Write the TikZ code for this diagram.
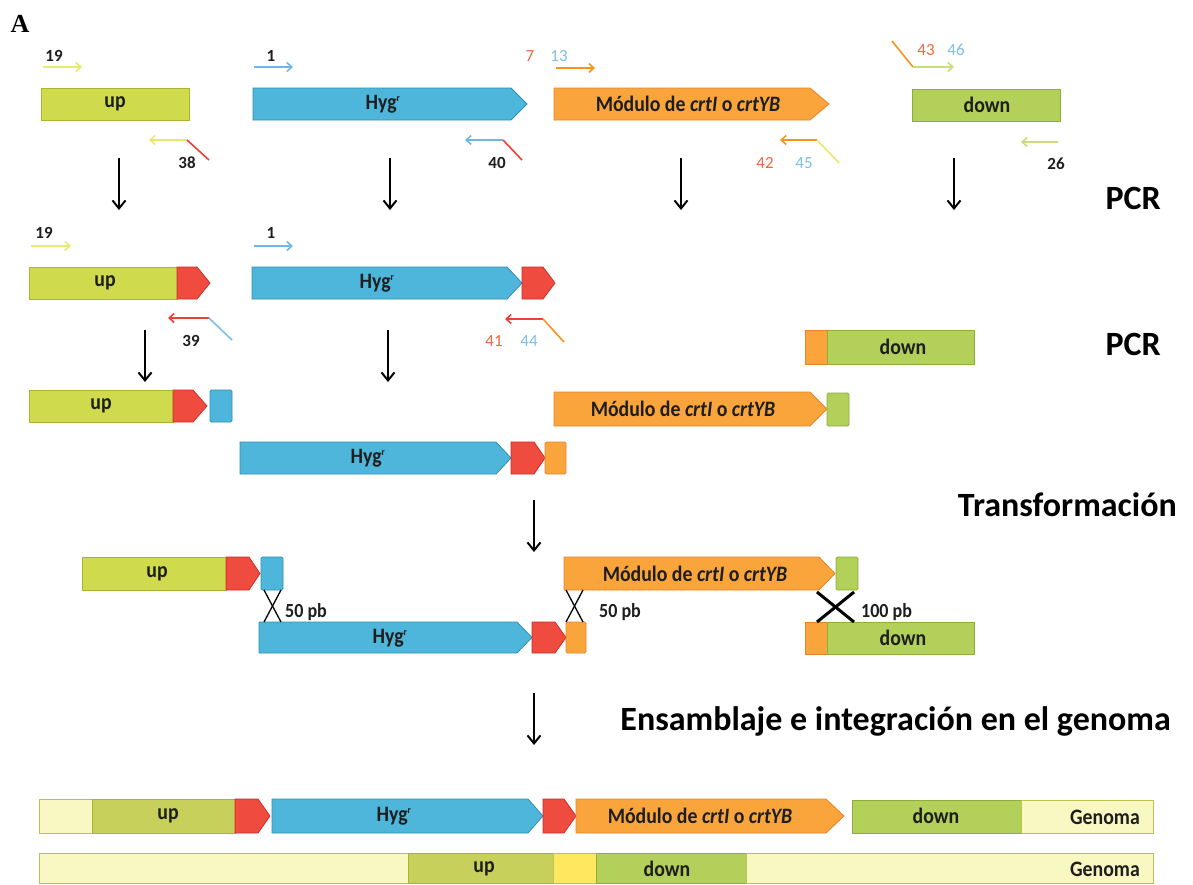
\documentclass[tikz,border=0pt]{standalone}
\usepackage{fontspec}
\setmainfont{Carlito}
\newfontfamily\cond[FakeStretch=0.9]{Carlito}
\newfontfamily\serifA{Liberation Serif}
\usetikzlibrary{arrows.meta}
\definecolor{upfill}{HTML}{CFDA4C}
\definecolor{upline}{HTML}{A9B52F}
\definecolor{upfillB}{HTML}{C6D05A}
\definecolor{downfill}{HTML}{B2D05A}
\definecolor{downline}{HTML}{8DAE3C}
\definecolor{hygfill}{HTML}{4DB6DA}
\definecolor{hygline}{HTML}{2F8FB3}
\definecolor{modfill}{HTML}{F9A53B}
\definecolor{modline}{HTML}{E8832A}
\definecolor{redfill}{HTML}{EF4B3F}
\definecolor{redline}{HTML}{C7302A}
\definecolor{palefill}{HTML}{FAF8C2}
\definecolor{paleline}{HTML}{BCC24E}
\definecolor{yelfill}{HTML}{FDE860}
\definecolor{txt}{HTML}{1E1E1E}
\definecolor{numorange}{HTML}{F2683C}
\definecolor{numblue}{HTML}{7DBFE8}
\definecolor{pyellow}{HTML}{E6EA6E}
\definecolor{pgreen}{HTML}{C6DE7A}
\definecolor{pblue}{HTML}{6FB8E6}
\definecolor{porange}{HTML}{F7941D}
\definecolor{pred}{HTML}{EE4038}
\newcommand\pent[6]{\draw[#1] (#2,#5) -- (#3,#5) -- (#4,{(#5+#6)/2}) -- (#3,#6) -- (#2,#6) -- cycle;}
\tikzset{
  upbox/.style={fill=upfill,draw=upline,line width=0.8pt},
  upboxB/.style={fill=upfillB,draw=upline,line width=0.8pt},
  downbox/.style={fill=downfill,draw=downline,line width=0.8pt},
  hygbox/.style={fill=hygfill,draw=hygline,line width=0.8pt},
  modbox/.style={fill=modfill,draw=modline,line width=0.8pt},
  redbox/.style={fill=redfill,draw=redline,line width=0.8pt},
  palebox/.style={fill=palefill,draw=paleline,line width=0.8pt},
  yelbox/.style={fill=yelfill,draw=paleline,line width=0.8pt},
  lbl/.style={text=txt,font=\cond\fontsize{22}{23}\selectfont\bfseries,inner sep=0pt},
  num/.style={font=\fontsize{17}{18}\selectfont,inner sep=0pt},
  bnum/.style={text=txt,font=\fontsize{17}{18}\selectfont\bfseries,inner sep=0pt},
  pbl/.style={text=txt,font=\cond\fontsize{20}{21}\selectfont\bfseries,inner sep=0pt},
  big/.style={text=black,font=\fontsize{34}{36}\selectfont\bfseries,inner sep=0pt},
  prim/.style={line width=1.6pt,-{Straight Barb[length=5pt,width=9pt]}},
  tail/.style={line width=1.6pt},
  downarr/.style={line width=2pt,black,-{Straight Barb[length=8pt,width=13pt,line width=2pt]}},
  cross/.style={line width=1.3pt,black},
}
\newcommand\hyg{Hyg\textsuperscript{\fontsize{10}{10}\selectfont r}}
\newcommand\modtext{M\'odulo de \textit{crtI} o \textit{crtYB}}
\begin{document}
\begin{tikzpicture}[x=1pt,y=-1pt]
\useasboundingbox (0,0) rectangle (1193,884);
\fill[white] (0,0) rectangle (1193,884);
\node[font=\serifA\fontsize{26}{28}\selectfont\bfseries,inner sep=0pt] (lA) at (20,24) {A};

% ---------- Row 1 ----------
\draw[upbox] (41,88) rectangle (189,120);
\node[lbl] (t-up1) at (115,104) {up};
\pent{hygbox}{253}{511}{527}{88}{120}
\node[lbl] (t-hyg1) at (383,104) {\hyg};
\pent{modbox}{554}{810}{829}{88}{120}
\node[lbl] (t-mod1) at (688,104) {\modtext};
\draw[downbox] (912,89) rectangle (1060,121);
\node[lbl] (t-down1) at (987,105) {down};

% primers row 1
\node[bnum] (n19a) at (54,56) {19};
\coordinate (p19a) at (43,67); \coordinate (p19b) at (82,67);
\draw[prim,pyellow] (p19a) -- (p19b);
\node[bnum] (n1a) at (271,56) {1};
\coordinate (p1a) at (254,67); \coordinate (p1b) at (293,67);
\draw[prim,pblue] (p1a) -- (p1b);
\node[num,numorange] (n7) at (530,56) {7};
\node[num,numblue] (n13) at (559,56) {13};
\coordinate (p7a) at (556,68); \coordinate (p7b) at (595,68);
\draw[prim,porange] (p7a) -- (p7b);
\coordinate (p43s) at (892,41); \coordinate (p43a) at (913,67); \coordinate (p43b) at (954,67);
\draw[tail,porange] (p43s) -- (p43a);
\draw[prim,pgreen] (p43a) -- (p43b);
\node[num,numorange] (n43) at (926,50) {43};
\node[num,numblue] (n46) at (956,50) {46};

\coordinate (p38a) at (187,140); \coordinate (p38b) at (149,140); \coordinate (p38t) at (209,160);
\draw[prim,pyellow] (p38a) -- (p38b);
\draw[tail,pred] (p38a) -- (p38t);
\node[bnum] (n38) at (187,163) {38};
\coordinate (p40a) at (503,140); \coordinate (p40b) at (465,140); \coordinate (p40t) at (522,160);
\draw[prim,pblue] (p40a) -- (p40b);
\draw[tail,pred] (p40a) -- (p40t);
\node[bnum] (n40) at (497,163) {40};
\coordinate (p42a) at (817,140); \coordinate (p42b) at (780,140); \coordinate (p42t) at (839,163);
\draw[prim,porange] (p42a) -- (p42b);
\draw[tail,pyellow] (p42a) -- (p42t);
\node[num,numorange] (n42) at (765,163) {42};
\node[num,numblue] (n45) at (804,163) {45};
\coordinate (p26a) at (1058,142); \coordinate (p26b) at (1021,142);
\draw[prim,pgreen] (p26a) -- (p26b);
\node[bnum] (n26) at (1056,164) {26};

% down arrows 1
\coordinate (d1a) at (119,158); \coordinate (d1b) at (119,210);
\coordinate (d2a) at (390,158); \coordinate (d2b) at (390,210);
\coordinate (d3a) at (681,158); \coordinate (d3b) at (681,210);
\coordinate (d4a) at (954,158); \coordinate (d4b) at (954,210);
\draw[downarr] (d1a) -- (d1b);
\draw[downarr] (d2a) -- (d2b);
\draw[downarr] (d3a) -- (d3b);
\draw[downarr] (d4a) -- (d4b);
\node[big,anchor=east] (pcr1) at (1161,198) {PCR};

% ---------- Row 2 ----------
\node[bnum] (n19b) at (44,233) {19};
\coordinate (q19a) at (31,246); \coordinate (q19b) at (71,246);
\draw[prim,pyellow] (q19a) -- (q19b);
\node[bnum] (n1b) at (271,233) {1};
\coordinate (q1a) at (254,246); \coordinate (q1b) at (293,246);
\draw[prim,pblue] (q1a) -- (q1b);

\draw[upbox] (29,267) rectangle (177,299);
\pent{redbox}{177}{197}{210}{267}{299}
\node[lbl] (t-up2) at (105,283) {up};
\pent{hygbox}{252}{507}{522}{267}{299}
\pent{redbox}{522}{543}{555}{267}{299}
\node[lbl] (t-hyg2) at (377,283) {\hyg};

\coordinate (q39a) at (209,318); \coordinate (q39b) at (168,318); \coordinate (q39t) at (232,340);
\draw[prim,pred] (q39a) -- (q39b);
\draw[tail,numblue] (q39a) -- (q39t);
\node[bnum] (n39) at (191,341) {39};
\coordinate (q41a) at (543,319); \coordinate (q41b) at (505,319); \coordinate (q41t) at (564,342);
\draw[prim,pred] (q41a) -- (q41b);
\draw[tail,porange] (q41a) -- (q41t);
\node[num,numorange] (n41) at (494,341) {41};
\node[num,numblue] (n44) at (529,341) {44};

\draw[modbox] (805,330) rectangle (827,364);
\draw[downbox] (827,330) rectangle (974,364);
\node[lbl] (t-down2) at (903,347) {down};
\node[big,anchor=east] (pcr2) at (1161,344) {PCR};

\coordinate (e1a) at (145,330); \coordinate (e1b) at (145,382);
\coordinate (e2a) at (388,330); \coordinate (e2b) at (388,382);
\draw[downarr] (e1a) -- (e1b);
\draw[downarr] (e2a) -- (e2b);

% ---------- Row 3 ----------
\draw[upbox] (29,390) rectangle (173,422);
\pent{redbox}{173}{193}{207}{390}{422}
\draw[hygbox,rounded corners=1.5pt] (210,390) rectangle (232,422);
\node[lbl] (t-up3) at (101,406) {up};
\pent{modbox}{554}{810}{827}{392}{426}
\draw[downbox,rounded corners=1.5pt] (827,393) rectangle (849,426);
\node[lbl] (t-mod3) at (683,409) {\modtext};
\pent{hygbox}{240}{496}{511}{442}{474}
\pent{redbox}{511}{534}{545}{442}{474}
\draw[modbox,rounded corners=1.5pt] (545,442) rectangle (566,474);
\node[lbl] (t-hyg3) at (368,458) {\hyg};

\coordinate (f1a) at (534,500); \coordinate (f1b) at (534,552);
\draw[downarr] (f1a) -- (f1b);
\node[big,anchor=east] (transf) at (1177,505) {Transformación};

% ---------- Row 4/5 ----------
\draw[upbox] (82,557) rectangle (226,590);
\pent{redbox}{226}{249}{260}{557}{590}
\draw[hygbox,rounded corners=1.5pt] (261,557) rectangle (283,590);
\node[lbl] (t-up4) at (157,574) {up};
\pent{modbox}{564}{819}{835}{557}{590}
\draw[downbox,rounded corners=1.5pt] (836,557) rectangle (858,590);
\node[lbl] (t-mod4) at (695,574) {\modtext};

\pent{hygbox}{259}{517}{532}{622}{653}
\pent{redbox}{532}{555}{566}{622}{653}
\draw[modbox,rounded corners=1.5pt] (566,622) rectangle (586,653);
\node[lbl] (t-hyg5) at (390,638) {\hyg};
\draw[modbox] (805,622) rectangle (827,654);
\draw[downbox] (827,622) rectangle (974,654);
\node[lbl] (t-down5) at (903,638) {down};

% crosses
\draw[cross] (264,590) -- (281,622);
\draw[cross] (281,590) -- (264,622);
\node[pbl,anchor=west] (pb1) at (285,612) {50 pb};
\draw[cross] (566,590) -- (583,622);
\draw[cross] (583,590) -- (566,622);
\node[pbl,anchor=west] (pb2) at (599,612) {50 pb};
\draw[cross,line width=3pt] (817,592) -- (854,622);
\draw[cross,line width=3pt] (854,592) -- (817,622);
\node[pbl,anchor=west] (pb3) at (861,612) {100 pb};

\coordinate (g1a) at (534,693); \coordinate (g1b) at (534,745);
\draw[downarr] (g1a) -- (g1b);
\node[big,anchor=east] (ensam) at (1171,721) {Ensamblaje e integración en el genoma};

% ---------- Bottom rows ----------
\draw[palebox] (39,799) rectangle (92,833);
\draw[upboxB] (92,799) rectangle (235,833);
\pent{redbox}{235}{258}{270}{799}{833}
\pent{hygbox}{272}{528}{543}{799}{833}
\pent{redbox}{543}{564}{576}{799}{833}
\pent{modbox}{576}{826}{844}{799}{833}
\draw[downbox] (852,800) rectangle (1021,833);
\draw[palebox] (1021,800) rectangle (1153,833);
\node[lbl] (t-up6) at (168,816) {up};
\node[lbl] (t-hyg6) at (394,816) {\hyg};
\node[lbl] (t-mod6) at (700,816) {\modtext};
\node[lbl] (t-down6) at (936,816) {down};
\node[lbl,anchor=east] (t-gen6) at (1140,817) {Genoma};

\draw[palebox] (39,853) rectangle (408,883);
\draw[upboxB] (408,853) rectangle (553,883);
\draw[yelbox] (553,853) rectangle (596,883);
\draw[downbox] (596,853) rectangle (746,883);
\draw[palebox] (746,853) rectangle (1153,883);
\node[lbl] (t-up7) at (484,869) {up};
\node[lbl] (t-down7) at (667,869) {down};
\node[lbl,anchor=east] (t-gen7) at (1140,869) {Genoma};
\end{tikzpicture}
\end{document}
